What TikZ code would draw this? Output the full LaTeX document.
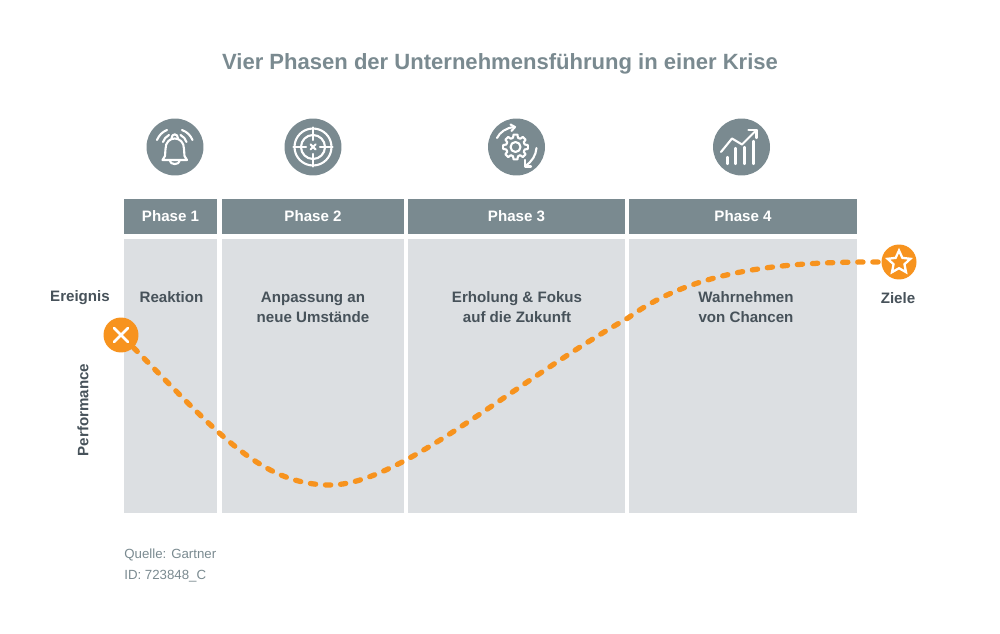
\documentclass[tikz,border=0pt]{standalone}
\usepackage{fontspec}
\setmainfont{Liberation Sans}
\usetikzlibrary{shapes.geometric}
\definecolor{slategrey}{HTML}{7A8A90}
\definecolor{panelgrey}{HTML}{DCDFE2}
\definecolor{darktext}{HTML}{47525A}
\definecolor{curveorange}{HTML}{F7931E}
\tikzset{
    headbox/.style={fill=slategrey, text=white, inner sep=0pt, minimum height=0.7cm, font=\fontsize{8.6}{10}\selectfont\bfseries},
    panelbox/.style={fill=panelgrey, inner sep=0pt, minimum height=5.48cm},
    paneltext/.style={text=darktext, align=center, font=\fontsize{8.6}{11.4}\selectfont\bfseries},
    iconbadge/.style={circle, fill=slategrey, minimum size=1.14cm, inner sep=0pt},
    markbadge/.style={circle, fill=curveorange, minimum size=0.7cm, inner sep=0pt},
    iconline/.style={draw=white, line width=1.2pt, line cap=round, line join=round},
    sourcetext/.style={text=slategrey, anchor=west, inner sep=0pt, font=\fontsize{7.55}{10}\selectfont}
}
\begin{document}
\begin{tikzpicture}[x=0.02cm, y=-0.02cm]
    \useasboundingbox (0,0) rectangle (1000,634);

    % Title
    \node[text=slategrey, font=\fontsize{12.55}{16}\selectfont\bfseries] (title) at (500,63.5) {Vier Phasen der Unternehmensführung in einer Krise};

    % Phase columns
    \foreach \id/\lft/\rgt/\lab in {1/124/217/Phase 1, 2/222/404/Phase 2, 3/408/625/Phase 3, 4/629/857/Phase 4} {
        \node[headbox, minimum width={(\rgt-\lft)*0.02cm}] (head\id) at ({(\lft+\rgt)/2},216.5) {\lab};
        \node[panelbox, minimum width={(\rgt-\lft)*0.02cm}] (panel\id) at ({(\lft+\rgt)/2},376) {};
    }

    % Column texts
    \node[paneltext] (react) at (171.5,297.5) {Reaktion};
    \node[paneltext] (adapt) at (313,307.5) {Anpassung an\\neue Umstände};
    \node[paneltext] (recover) at (517,307.5) {Erholung \& Fokus\\auf die Zukunft};
    \node[paneltext] (chances) at (746,307.5) {Wahrnehmen\\von Chancen};

    % Outer labels
    \node[paneltext] (event) at (80,297.5) {Ereignis};
    \node[paneltext] (goal) at (898,298.5) {Ziele};
    \node[paneltext, rotate=90] (perf) at (83,410) {Performance};

    % Source
    \node[sourcetext] (source) at (124,554.5) {Quelle: Gartner};
    \node[sourcetext] (ident) at (124,576.5) {ID: 723848\_C};

    % Icon badges
    \node[iconbadge] (bell) at (175,147) {};
    \node[iconbadge] (target) at (313,147) {};
    \node[iconbadge] (gear) at (516.5,147) {};
    \node[iconbadge] (chart) at (741.5,147) {};

    % Bell
    \draw[iconline] (162.5,160) -- (165,156) -- (165.5,149) .. controls (165.5,142) and (170,138.5) .. (174.7,138.5) .. controls (179.5,138.5) and (184,142) .. (184,149) -- (184.5,156) -- (187,160) -- cycle;
    \draw[iconline] (171.5,138.5) .. controls (171.5,133) and (178,133) .. (178,138.5);
    \draw[iconline] (169.5,160) .. controls (170,165.5) and (179.5,165.5) .. (180,160);
    \draw[iconline] (157,140) .. controls (159,135.5) and (162,132) .. (167,130);
    \draw[iconline] (163,142) .. controls (164,139) and (166,136.5) .. (169,135);
    \draw[iconline] (192.5,140) .. controls (190.5,135.5) and (187.5,132) .. (182,130);
    \draw[iconline] (186.5,142) .. controls (185.5,139) and (183.5,136.5) .. (180.5,135);

    % Target
    \draw[iconline] (313,147) circle (18.5);
    \draw[iconline] (313,147) circle (12);
    \draw[iconline] (293.5,147) -- (306,147) (320,147) -- (332.5,147);
    \draw[iconline] (313,127.5) -- (313,140) (313,154) -- (313,166.5);
    \draw[iconline] (310.5,144.5) -- (315.5,149.5) (315.5,144.5) -- (310.5,149.5);

    % Gear and arrows
    \draw[iconline] \foreach \a in {0,45,...,315} {
        ([shift={(515.5,147)}]{\a-15}:9.5) -- ([shift={(515.5,147)}]{\a-9}:12.5) -- ([shift={(515.5,147)}]{\a+9}:12.5) -- ([shift={(515.5,147)}]{\a+15}:9.5) -- ([shift={(515.5,147)}]{\a+30}:9.5)
    };
    \draw[iconline] (515.5,147) circle (5);
    \draw[iconline] (497,138) .. controls (500,132) and (506,128) .. (514,127);
    \draw[iconline] (510.5,124.5) -- (515,127) -- (511.5,131);
    \draw[iconline] (536.5,148) .. controls (536,155) and (532,162) .. (525,166);
    \draw[iconline] (525,160) -- (525,166.5) -- (531,166.5);

    % Chart
    \draw[iconline] (727.5,164) -- (727.5,157);
    \draw[iconline] (735.5,164) -- (735.5,148);
    \draw[iconline] (744.5,164) -- (744.5,147);
    \draw[iconline] (753.5,164) -- (753.5,141);
    \draw[iconline] (721,152) -- (732,138.5) -- (742,144.5) -- (756.5,130);
    \draw[iconline] (748.5,130) -- (756.5,130) -- (756.5,138);

    % Start and end marks
    \node[markbadge] (eventmark) at (121,335) {};
    \node[markbadge] (goalmark) at (899,262) {};
    \draw[draw=white, line width=1.6pt, line cap=round] (114,328) -- (128,342) (128,328) -- (114,342);
    \node[star, star points=5, star point ratio=2.1, draw=white, line width=1.3pt, minimum size=0.48cm, inner sep=0pt] (goalstar) at (899,262.5) {};

    % Performance curve
    \draw[curveorange, line width=3pt, line cap=round, dash pattern=on 3pt off 5.6pt]
        (eventmark) .. controls (215,430) and (260,485) .. (330,485)
        .. controls (400,485) and (510,385) .. (628,318)
        .. controls (700,265) and (800,262) .. (goalmark);
\end{tikzpicture}
\end{document}
